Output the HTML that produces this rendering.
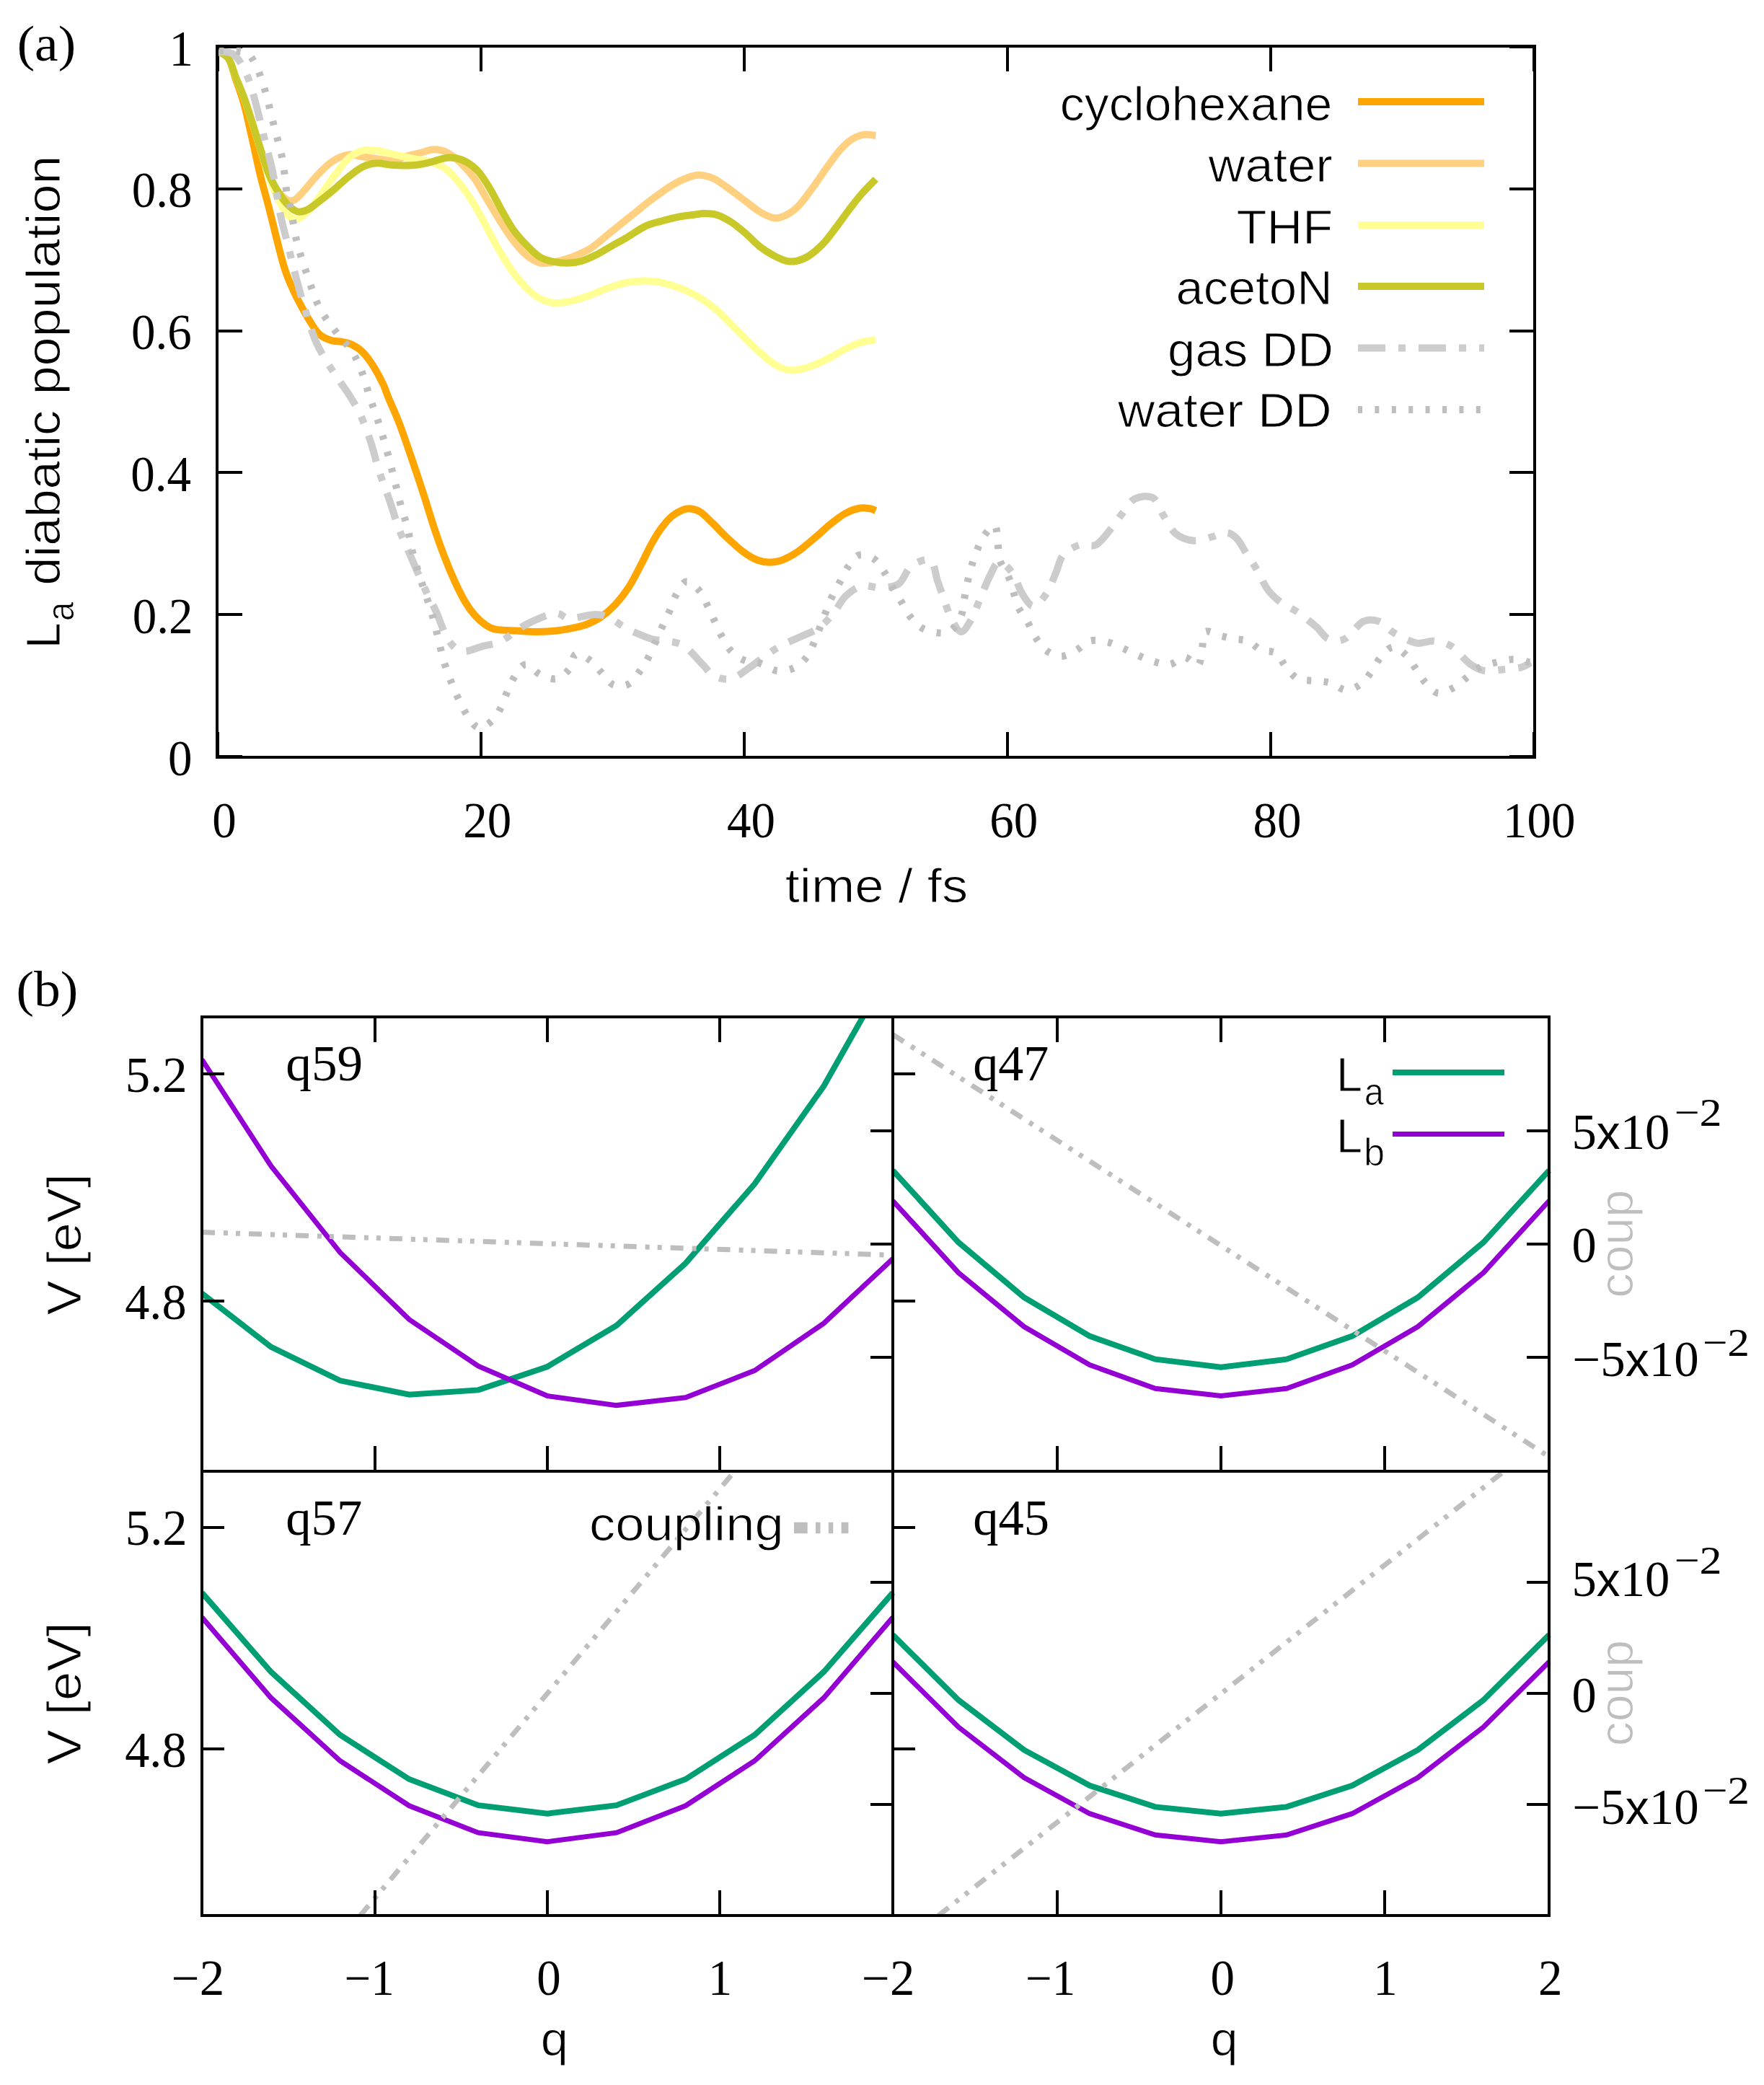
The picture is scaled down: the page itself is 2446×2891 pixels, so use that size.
<!DOCTYPE html>
<html lang="en"><head><meta charset="utf-8"><title>Figure</title>
<style>html,body{margin:0;padding:0;background:#fff}svg{display:block}text{white-space:pre}text[font-family*="Sans"]{stroke:#fff;stroke-width:1px}</style>
</head><body>
<svg width="2446" height="2891" viewBox="0 0 2446 2891">
<rect width="2446" height="2891" fill="#fff"/>
<defs>
<clipPath id="ca"><rect x="295.0" y="58.0" width="1839.0" height="998.0"/></clipPath>
</defs>
<path d="M302.0 1050.0v-35M302.0 64.0v35M667.0 1050.0v-35M667.0 64.0v35M1032.0 1050.0v-35M1032.0 64.0v35M1397.0 1050.0v-35M1397.0 64.0v35M1762.0 1050.0v-35M1762.0 64.0v35M2127.0 1050.0v-35M2127.0 64.0v35M301.0 1049.0h35M2128.0 1049.0h-35M301.0 852.0h35M2128.0 852.0h-35M301.0 655.0h35M2128.0 655.0h-35M301.0 459.0h35M2128.0 459.0h-35M301.0 262.0h35M2128.0 262.0h-35M301.0 65.0h35M2128.0 65.0h-35" stroke="#000" stroke-width="4.0" fill="none"/>
<g clip-path="url(#ca)" fill="none" stroke-width="10" stroke-linejoin="round">
<path d="M302.8 71.3C305.1 72.9 312.9 74.8 316.9 81.2C320.9 87.6 323.3 99.1 326.8 109.5C330.4 119.9 334.4 129.8 338.2 143.5C342.0 157.2 345.7 175.2 349.5 191.7C353.3 208.3 357.1 227.2 360.9 242.7C364.6 258.3 368.4 270.6 372.2 285.3C376.0 299.9 379.8 316.0 383.5 330.6C387.3 345.3 391.1 361.3 394.9 373.1C398.7 384.9 402.4 393.0 406.2 401.5C410.0 410.0 413.8 417.1 417.6 424.1C421.3 431.2 424.6 437.4 428.9 444.0C433.1 450.6 437.9 459.1 443.1 463.8C448.3 468.6 454.9 470.7 460.1 472.3C465.3 474.0 469.5 472.8 474.2 473.8C479.0 474.7 483.7 475.6 488.4 478.0C493.1 480.4 497.9 483.2 502.6 487.9C507.3 492.6 512.0 499.0 516.8 506.3C521.5 513.7 527.4 524.6 530.9 531.9C534.5 539.1 534.2 540.8 538.0 550.0C541.8 559.2 548.2 572.7 553.6 586.8C559.0 601.0 564.9 618.5 570.6 635.0C576.3 651.6 582.4 670.0 587.6 686.1C592.8 702.1 597.1 717.2 601.8 731.4C606.5 745.6 611.2 758.8 616.0 771.1C620.7 783.4 625.4 794.7 630.1 805.1C634.9 815.5 639.6 825.4 644.3 833.4C649.0 841.5 653.8 847.9 658.5 853.3C663.2 858.7 667.9 862.8 672.7 866.0C677.4 869.3 679.7 871.1 686.8 872.6C693.9 874.0 705.7 874.0 715.2 874.5C724.6 875.1 734.1 876.0 743.5 876.0C753.0 876.0 764.1 875.3 771.9 874.5C779.6 873.8 783.2 873.1 790.0 871.7C796.8 870.3 805.6 868.6 812.7 866.0C819.8 863.4 825.9 860.6 832.5 856.1C839.1 851.6 845.7 846.2 852.4 839.1C859.0 832.0 866.1 823.1 872.2 813.6C878.3 804.2 884.0 792.3 889.2 782.4C894.4 772.5 898.7 762.6 903.4 754.1C908.1 745.6 912.8 737.8 917.6 731.4C922.3 725.0 927.0 719.8 931.7 715.8C936.4 711.8 941.6 709.1 945.9 707.3C950.1 705.6 953.0 704.9 957.2 705.3C961.5 705.8 966.2 706.7 971.4 710.1C976.6 713.5 982.3 719.8 988.4 725.7C994.6 731.6 1001.2 739.0 1008.3 745.6C1015.3 752.2 1023.8 760.2 1030.9 765.4C1038.0 770.6 1044.4 774.4 1050.8 776.8C1057.1 779.1 1063.1 779.8 1069.2 779.6C1075.3 779.4 1081.2 777.9 1087.6 775.3C1094.0 772.7 1100.4 769.0 1107.5 764.0C1114.5 759.0 1122.6 752.0 1130.1 745.6C1137.7 739.2 1145.7 731.4 1152.8 725.7C1159.9 720.1 1166.0 715.1 1172.7 711.6C1179.3 708.0 1186.8 705.5 1192.5 704.5C1198.2 703.4 1203.0 704.7 1206.7 705.3C1210.3 705.9 1213.0 707.7 1214.3 708.2" stroke="#FFA500"/>
<path d="M302.8 71.3C305.1 72.9 312.9 75.3 316.9 81.2C320.9 87.1 323.3 97.7 326.8 106.7C330.4 115.7 334.4 124.6 338.2 135.0C342.0 145.4 345.7 157.2 349.5 169.0C353.3 180.9 357.1 194.1 360.9 205.9C364.6 217.7 368.4 230.5 372.2 239.9C376.0 249.4 379.3 256.4 383.5 262.6C387.8 268.7 393.5 274.4 397.7 276.8C402.0 279.1 404.8 279.1 409.0 276.8C413.3 274.4 418.0 268.3 423.2 262.6C428.4 256.9 434.1 249.1 440.2 242.7C446.4 236.4 453.0 229.0 460.1 224.3C467.2 219.6 475.7 215.6 482.7 214.4C489.8 213.2 496.0 216.3 502.6 217.2C509.2 218.2 515.3 219.1 522.4 220.1C529.5 221.0 538.5 223.4 545.1 222.9C551.7 222.4 556.0 219.0 562.1 217.2C568.3 215.4 575.3 213.8 582.0 212.1C588.6 210.5 595.4 207.4 601.8 207.3C608.2 207.2 614.1 208.5 620.2 211.6C626.4 214.6 632.3 219.6 638.6 225.7C645.0 231.9 652.3 239.9 658.5 248.4C664.6 256.9 669.8 267.3 675.5 276.8C681.2 286.2 686.8 296.1 692.5 305.1C698.2 314.1 703.4 322.6 709.5 330.6C715.6 338.6 722.7 347.6 729.3 353.3C736.0 359.0 742.6 363.0 749.2 364.6C755.8 366.3 762.2 364.4 769.0 363.2C775.8 362.0 781.8 360.6 790.0 357.5C798.2 354.5 808.9 350.7 818.3 344.8C827.8 338.9 837.2 329.7 846.7 322.1C856.1 314.6 865.6 307.0 875.0 299.4C884.5 291.9 893.9 283.8 903.4 276.8C912.8 269.7 923.7 261.9 931.7 256.9C939.8 252.0 945.4 249.4 951.6 247.0C957.7 244.6 962.4 242.7 968.6 242.7C974.7 242.7 981.8 244.2 988.4 247.0C995.0 249.8 1001.2 254.8 1008.3 259.8C1015.3 264.7 1023.4 271.1 1030.9 276.8C1038.5 282.4 1046.5 289.5 1053.6 293.8C1060.7 298.0 1067.3 301.6 1073.4 302.3C1079.6 303.0 1084.8 300.9 1090.5 298.0C1096.1 295.2 1101.3 291.6 1107.5 285.3C1113.6 278.9 1120.7 268.7 1127.3 259.8C1133.9 250.8 1141.0 239.9 1147.1 231.4C1153.3 222.9 1158.5 215.1 1164.1 208.7C1169.8 202.4 1175.5 196.8 1181.2 193.1C1186.8 189.5 1192.6 187.5 1198.2 186.6C1203.7 185.8 1211.6 187.8 1214.3 188.0" stroke="#FFD080"/>
<path d="M302.8 71.3C305.1 72.9 312.9 75.3 316.9 81.2C320.9 87.1 323.3 97.7 326.8 106.7C330.4 115.7 334.4 124.6 338.2 135.0C342.0 145.4 345.7 157.2 349.5 169.0C353.3 180.9 357.1 193.6 360.9 205.9C364.6 218.2 368.4 231.9 372.2 242.7C376.0 253.6 379.3 262.1 383.5 271.1C387.8 280.1 393.0 291.2 397.7 296.6C402.4 302.0 407.2 304.2 411.9 303.7C416.6 303.2 421.3 298.3 426.1 293.8C430.8 289.3 434.6 284.3 440.2 276.8C445.9 269.2 453.0 257.9 460.1 248.4C467.2 239.0 475.7 226.7 482.7 220.1C489.8 213.5 496.0 210.6 502.6 208.7C509.2 206.8 515.3 207.9 522.4 208.7C529.5 209.6 536.6 211.9 545.1 213.8C553.6 215.7 564.9 218.3 573.4 220.1C582.0 221.8 588.3 221.7 596.1 224.3C603.9 226.9 612.7 229.8 620.2 235.7C627.8 241.6 635.1 251.5 641.5 259.8C647.9 268.0 652.8 275.8 658.5 285.3C664.1 294.7 669.8 306.0 675.5 316.4C681.2 326.8 686.4 337.2 692.5 347.6C698.6 358.0 705.7 369.8 712.3 378.8C718.9 387.8 726.0 395.6 732.2 401.5C738.3 407.4 743.0 411.2 749.2 414.2C755.3 417.3 762.2 419.3 769.0 419.9C775.8 420.5 782.7 419.3 790.0 417.9C797.3 416.5 804.2 414.4 812.7 411.4C821.2 408.4 831.6 403.4 841.0 400.1C850.5 396.7 861.3 393.3 869.4 391.6C877.4 389.8 882.6 389.8 889.2 389.6C895.8 389.3 902.0 389.1 909.0 390.1C916.1 391.2 924.2 393.4 931.7 395.8C939.3 398.2 946.8 400.8 954.4 404.3C962.0 407.9 969.5 411.9 977.1 417.1C984.6 422.3 992.2 428.6 999.8 435.5C1007.3 442.3 1014.9 450.6 1022.4 458.2C1030.0 465.7 1037.5 473.8 1045.1 480.8C1052.7 487.9 1061.2 495.7 1067.8 500.7C1074.4 505.6 1079.1 508.5 1084.8 510.6C1090.5 512.7 1095.2 513.9 1101.8 513.4C1108.4 513.0 1116.9 510.4 1124.5 507.8C1132.0 505.2 1139.6 501.6 1147.1 497.8C1154.7 494.1 1162.3 488.9 1169.8 485.1C1177.4 481.3 1185.1 477.5 1192.5 475.2C1199.9 472.8 1210.7 471.6 1214.3 470.9" stroke="#FFFF94"/>
<path d="M302.8 71.3C305.1 72.9 312.9 75.3 316.9 81.2C320.9 87.1 323.3 97.7 326.8 106.7C330.4 115.7 334.4 124.6 338.2 135.0C342.0 145.4 345.7 157.2 349.5 169.0C353.3 180.9 357.1 194.1 360.9 205.9C364.6 217.7 368.4 230.5 372.2 239.9C376.0 249.4 379.3 255.5 383.5 262.6C387.8 269.7 393.0 277.3 397.7 282.4C402.4 287.5 407.2 291.8 411.9 293.2C416.6 294.6 421.3 293.0 426.1 290.9C430.8 288.9 434.6 285.3 440.2 281.0C445.9 276.8 453.0 271.3 460.1 265.4C467.2 259.5 475.7 251.2 482.7 245.6C489.8 239.9 496.0 234.6 502.6 231.4C509.2 228.2 515.3 226.7 522.4 226.3C529.5 225.9 536.6 228.7 545.1 229.1C553.6 229.6 564.9 229.8 573.4 229.1C582.0 228.5 588.3 226.9 596.1 225.2C603.9 223.4 612.9 219.3 620.2 218.7C627.5 218.0 633.2 218.7 640.1 221.5C646.9 224.3 654.9 229.3 661.3 235.7C667.7 242.0 672.7 250.5 678.3 259.8C684.0 269.0 689.7 281.0 695.3 290.9C701.0 300.9 706.2 310.8 712.3 319.3C718.5 327.8 726.0 335.7 732.2 342.0C738.3 348.2 743.0 353.1 749.2 356.7C755.3 360.2 762.2 361.9 769.0 363.2C775.8 364.5 783.7 364.9 790.0 364.6C796.3 364.4 800.9 363.7 807.0 361.8C813.1 359.9 820.2 356.6 826.8 353.3C833.5 350.0 839.6 346.0 846.7 342.0C853.8 337.9 861.3 333.9 869.4 329.2C877.4 324.5 886.8 317.4 894.9 313.6C902.9 309.8 910.0 308.6 917.6 306.5C925.1 304.4 933.1 302.3 940.2 300.9C947.3 299.4 953.9 298.8 960.1 298.0C966.2 297.2 971.4 296.0 977.1 296.0C982.7 296.0 987.9 296.0 994.1 298.0C1000.2 300.0 1007.3 303.7 1013.9 307.9C1020.5 312.2 1027.2 317.9 1033.8 323.5C1040.4 329.2 1047.0 336.8 1053.6 342.0C1060.2 347.1 1067.3 351.4 1073.4 354.7C1079.6 358.0 1085.3 360.6 1090.5 361.8C1095.7 363.0 1099.4 363.0 1104.6 361.8C1109.8 360.6 1115.5 358.7 1121.6 354.7C1127.8 350.7 1135.3 344.1 1141.5 337.7C1147.6 331.3 1152.3 324.5 1158.5 316.4C1164.6 308.4 1172.2 297.5 1178.3 289.5C1184.5 281.5 1189.3 275.1 1195.3 268.3C1201.3 261.4 1211.2 251.7 1214.3 248.4" stroke="#C8C828"/>
<path d="M302.8 71.3C306.3 72.0 317.6 70.5 324.0 75.5C330.4 80.5 336.3 91.1 341.0 101.0C345.7 110.9 348.1 119.9 352.4 135.0C356.6 150.2 362.3 174.7 366.5 191.7C370.8 208.7 374.1 219.1 377.9 237.1C381.6 255.0 385.4 281.5 389.2 299.4C393.0 317.4 396.8 329.7 400.5 344.8C404.3 359.9 408.1 376.0 411.9 390.1C415.7 404.3 419.0 416.1 423.2 429.8C427.5 443.5 432.2 460.1 437.4 472.3C442.6 484.6 448.7 494.1 454.4 503.5C460.1 513.0 466.2 521.3 471.4 529.0C476.6 536.8 480.9 542.3 485.6 550.0C490.3 557.7 495.0 565.1 499.8 575.5C504.5 585.9 509.7 599.6 513.9 612.4C518.2 625.1 521.0 638.8 525.3 652.0C529.5 665.3 534.7 678.0 539.4 691.7C544.2 705.4 548.4 720.5 553.6 734.2C558.8 747.9 564.5 759.8 570.6 773.9C576.8 788.1 584.8 807.0 590.5 819.3C596.1 831.6 599.4 836.3 604.6 847.6C609.8 859.0 615.5 878.1 621.6 887.3C627.8 896.5 633.4 901.5 641.5 902.9C649.5 904.3 660.8 898.2 669.8 895.8C678.8 893.4 685.4 893.7 695.3 888.7C705.2 883.8 717.1 872.4 729.3 866.0C741.6 859.7 758.9 851.9 769.0 850.5C779.1 849.0 780.6 857.3 790.0 857.5C799.4 857.8 816.0 851.9 825.4 851.9C834.9 851.9 839.4 854.2 846.7 857.5C854.0 860.8 859.9 867.0 869.4 871.7C878.8 876.4 894.2 883.0 903.4 885.9C912.6 888.7 917.1 887.1 924.6 888.7C932.2 890.4 940.5 890.4 948.7 895.8C957.0 901.2 967.4 914.5 974.2 921.3C981.1 928.2 983.2 933.6 989.8 936.9C996.4 940.2 1005.7 943.0 1013.9 941.2C1022.2 939.3 1031.4 931.0 1039.4 925.6C1047.5 920.1 1054.6 913.8 1062.1 908.6C1069.7 903.4 1076.3 898.9 1084.8 894.4C1093.3 889.9 1104.6 885.6 1113.1 881.6C1121.6 877.6 1128.7 875.5 1135.8 870.3C1142.9 865.1 1149.5 857.8 1155.6 850.5C1161.8 843.1 1166.0 832.7 1172.7 826.4C1179.3 820.0 1187.3 814.1 1195.3 812.2C1203.4 810.3 1212.3 815.5 1220.8 815.0C1229.3 814.6 1239.3 814.3 1246.3 809.4C1253.4 804.4 1256.1 790.7 1263.4 785.3C1270.6 779.8 1283.9 773.5 1290.0 776.8C1296.1 780.1 1296.8 796.4 1299.9 805.1C1303.0 813.8 1305.4 820.7 1308.4 829.2C1311.5 837.7 1314.3 848.3 1318.3 856.1C1322.4 863.9 1327.8 875.5 1332.5 876.0C1337.2 876.4 1342.2 866.8 1346.7 859.0C1351.2 851.2 1355.2 839.1 1359.4 829.2C1363.7 819.3 1367.9 807.7 1372.2 799.4C1376.5 791.2 1379.8 780.5 1385.0 779.6C1390.2 778.6 1397.9 786.4 1403.4 793.8C1408.8 801.1 1412.6 815.7 1417.6 823.5C1422.5 831.3 1427.5 840.8 1433.1 840.5C1438.8 840.3 1446.4 829.9 1451.6 822.1C1456.8 814.3 1460.5 802.5 1464.3 793.8C1468.1 785.0 1468.8 776.0 1474.2 769.7C1479.7 763.3 1489.4 757.9 1496.9 755.5C1504.5 753.1 1512.3 759.3 1519.6 755.5C1526.9 751.7 1534.7 740.1 1540.9 732.8C1547.0 725.5 1551.0 718.4 1556.4 711.6C1561.9 704.7 1566.4 695.3 1573.4 691.7C1580.5 688.2 1592.3 686.5 1599.0 690.3C1605.6 694.1 1607.9 706.1 1613.1 714.4C1618.3 722.7 1623.0 734.0 1630.1 739.9C1637.2 745.8 1647.1 749.1 1655.6 749.8C1664.1 750.5 1673.6 746.1 1681.2 744.2C1688.7 742.3 1695.3 738.0 1701.0 738.5C1706.7 739.0 1710.7 742.3 1715.2 747.0C1719.7 751.7 1723.2 759.5 1727.9 766.8C1732.6 774.2 1738.7 782.7 1743.5 790.9C1748.4 799.2 1751.7 809.1 1757.0 816.4C1762.3 823.8 1768.3 829.4 1775.4 834.9C1782.5 840.3 1791.3 843.4 1799.5 849.0C1807.8 854.7 1817.9 862.7 1825.0 868.9C1832.1 875.0 1835.4 883.0 1842.0 885.9C1848.7 888.7 1856.7 889.9 1864.7 885.9C1872.7 881.9 1882.2 865.8 1890.2 861.8C1898.3 857.8 1905.8 859.2 1912.9 861.8C1920.0 864.4 1924.2 872.4 1932.7 877.4C1941.2 882.3 1954.7 889.7 1963.9 891.6C1973.1 893.4 1980.0 888.0 1988.0 888.7C1996.0 889.4 2003.8 890.6 2012.1 895.8C2020.4 901.0 2030.1 914.2 2037.6 919.9C2045.2 925.6 2049.9 928.4 2057.5 929.8C2065.0 931.2 2074.5 929.1 2083.0 928.4C2091.5 927.7 2101.9 927.2 2108.5 925.6C2115.1 923.9 2120.3 919.7 2122.7 918.5" stroke="#CCCCCC" stroke-dasharray="38 18 10 18"/>
<path d="M304.2 69.8C310.1 70.3 331.3 69.6 339.6 72.7C347.9 75.7 350.0 82.1 353.8 88.3C357.6 94.4 359.7 102.2 362.3 109.5C364.9 116.8 366.3 120.9 369.4 132.2C372.4 143.5 376.9 162.4 380.7 177.6C384.5 192.7 389.2 207.8 392.0 222.9C394.9 238.0 395.8 256.9 397.7 268.3C399.6 279.6 401.0 279.6 403.4 290.9C405.7 302.3 408.1 321.2 411.9 336.3C415.7 351.4 420.9 366.5 426.1 381.6C431.3 396.7 436.0 413.3 443.1 427.0C450.1 440.7 461.5 454.4 468.6 463.8C475.7 473.3 480.9 477.1 485.6 483.7C490.3 490.3 493.6 496.4 496.9 503.5C500.2 510.6 502.8 518.4 505.4 526.2C508.0 533.9 509.7 541.3 512.5 550.0C515.3 558.7 518.9 567.5 522.4 578.3C526.0 589.2 530.0 602.0 533.8 615.2C537.5 628.4 541.3 643.1 545.1 657.7C548.9 672.4 553.1 690.8 556.4 703.1C559.7 715.3 562.1 720.1 564.9 731.4C567.8 742.7 569.7 756.9 573.4 771.1C577.2 785.3 583.8 804.6 587.6 816.4C591.4 828.3 593.8 834.4 596.1 842.0C598.5 849.5 599.9 854.7 601.8 861.8C603.7 868.9 605.1 875.0 607.5 884.5C609.8 893.9 612.7 907.6 616.0 918.5C619.3 929.3 623.5 940.2 627.3 949.7C631.1 959.1 634.9 967.6 638.6 975.2C642.4 982.7 645.7 989.3 650.0 995.0C654.2 1000.7 658.5 1008.7 664.1 1009.2C669.8 1009.7 678.8 1002.8 684.0 997.8C689.2 992.9 692.0 986.0 695.3 979.4C698.6 972.8 700.5 965.5 703.8 958.2C707.1 950.8 710.9 941.6 715.2 935.5C719.4 929.3 723.7 921.3 729.3 921.3C735.0 921.3 742.1 932.2 749.2 935.5C756.3 938.8 765.1 942.6 771.9 941.2C778.7 939.7 785.6 932.7 790.0 927.0C794.4 921.3 793.8 909.0 798.5 907.1C803.2 905.3 812.2 911.2 818.3 915.6C824.5 920.1 829.9 928.4 835.4 934.1C840.8 939.7 844.8 947.3 850.9 949.7C857.1 952.0 866.1 951.5 872.2 948.2C878.3 944.9 883.3 936.0 887.8 929.8C892.3 923.7 893.9 921.8 899.1 911.4C904.3 901.0 914.0 878.3 919.0 867.5C923.9 856.6 925.8 853.3 928.9 846.2C932.0 839.1 933.6 831.6 937.4 824.9C941.2 818.3 946.1 807.5 951.6 806.5C957.0 805.6 965.0 813.6 970.0 819.3C974.9 824.9 977.8 833.4 981.3 840.5C984.9 847.6 987.9 854.7 991.2 861.8C994.6 868.9 997.4 876.2 1001.2 883.0C1004.9 889.9 1008.7 897.5 1013.9 902.9C1019.1 908.3 1025.5 912.8 1032.3 915.6C1039.2 918.5 1047.7 917.5 1055.0 919.9C1062.3 922.3 1069.0 928.6 1076.3 929.8C1083.6 931.0 1092.3 929.6 1099.0 927.0C1105.6 924.4 1111.2 919.7 1116.0 914.2C1120.7 908.8 1122.6 905.0 1127.3 894.4C1132.0 883.8 1140.1 861.3 1144.3 850.5C1148.6 839.6 1149.5 836.3 1152.8 829.2C1156.1 822.1 1160.4 815.0 1164.1 807.9C1167.9 800.9 1171.0 793.1 1175.5 786.7C1180.0 780.3 1184.9 771.6 1191.1 769.7C1197.2 767.8 1206.4 771.3 1212.3 775.3C1218.2 779.4 1222.3 787.2 1226.5 793.8C1230.8 800.4 1234.1 808.4 1237.8 815.0C1241.6 821.6 1245.2 826.8 1249.2 833.4C1253.2 840.1 1257.2 848.6 1261.9 854.7C1266.7 860.8 1271.2 866.5 1277.5 870.3C1283.9 874.1 1293.1 876.7 1299.9 877.4C1306.7 878.1 1312.9 878.3 1318.3 874.5C1323.8 870.8 1329.4 861.8 1332.5 854.7C1335.6 847.6 1335.4 839.6 1336.8 832.0C1338.2 824.5 1339.4 816.9 1341.0 809.4C1342.7 801.8 1344.6 794.0 1346.7 786.7C1348.8 779.4 1350.9 772.5 1353.8 765.4C1356.6 758.3 1359.4 750.3 1363.7 744.2C1367.9 738.0 1376.0 727.2 1379.3 728.6C1382.6 730.0 1382.4 744.6 1383.5 752.7C1384.7 760.7 1384.0 769.2 1386.4 776.8C1388.7 784.3 1394.6 790.9 1397.7 798.0C1400.8 805.1 1402.4 812.0 1404.8 819.3C1407.2 826.6 1408.6 834.9 1411.9 842.0C1415.2 849.0 1420.9 855.2 1424.6 861.8C1428.4 868.4 1430.3 875.0 1434.6 881.6C1438.8 888.2 1444.0 896.7 1450.1 901.5C1456.3 906.2 1464.3 910.0 1471.4 910.0C1478.5 910.0 1486.1 905.0 1492.7 901.5C1499.3 897.9 1504.0 890.6 1511.1 888.7C1518.2 886.8 1527.6 888.5 1535.2 890.1C1542.7 891.8 1549.4 895.6 1556.4 898.6C1563.5 901.7 1570.6 905.5 1577.7 908.6C1584.8 911.6 1591.6 914.9 1599.0 917.1C1606.3 919.2 1614.3 922.3 1621.6 921.3C1629.0 920.4 1636.3 911.2 1642.9 911.4C1649.5 911.6 1657.3 924.9 1661.3 922.7C1665.3 920.6 1665.3 906.4 1667.0 898.6C1668.6 890.8 1667.0 878.8 1671.2 876.0C1675.5 873.1 1685.9 880.0 1692.5 881.6C1699.1 883.3 1704.5 884.7 1710.9 885.9C1717.3 887.1 1724.5 886.1 1730.8 888.7C1737.0 891.3 1742.0 898.6 1748.5 901.5C1755.0 904.3 1764.1 901.9 1769.8 905.7C1775.4 909.5 1777.6 918.2 1782.5 924.1C1787.5 930.1 1792.9 937.8 1799.5 941.2C1806.1 944.5 1814.6 943.0 1822.2 944.0C1829.8 944.9 1837.6 944.7 1844.9 946.8C1852.2 949.0 1859.0 956.5 1866.1 956.7C1873.2 957.0 1881.5 952.5 1887.4 948.2C1893.3 944.0 1897.1 937.4 1901.6 931.2C1906.1 925.1 1909.4 917.1 1914.3 911.4C1919.3 905.7 1925.4 897.7 1931.3 897.2C1937.2 896.7 1944.3 903.4 1949.8 908.6C1955.2 913.8 1959.4 922.0 1963.9 928.4C1968.4 934.8 1971.7 941.4 1976.7 946.8C1981.6 952.3 1987.3 959.8 1993.7 961.0C2000.1 962.2 2008.3 957.5 2014.9 953.9C2021.6 950.4 2027.2 944.5 2033.4 939.7C2039.5 935.0 2044.9 929.1 2051.8 925.6C2058.6 922.0 2066.7 920.4 2074.5 918.5C2082.3 916.6 2090.8 914.2 2098.6 914.2C2106.4 914.2 2117.5 917.8 2121.2 918.5" stroke="#BEBEBE" stroke-dasharray="6 17.4"/>
</g>
<rect x="301.0" y="64.0" width="1827.0" height="986.0" fill="none" stroke="#000" stroke-width="4.0"/>
<text x="232.9" y="1074.5" font-family="'Liberation Serif', serif" font-size="69" textLength="33.5" lengthAdjust="spacingAndGlyphs">0</text>
<text x="183.8" y="877.7" font-family="'Liberation Serif', serif" font-size="69" textLength="83.8" lengthAdjust="spacingAndGlyphs">0.2</text>
<text x="181.2" y="680.9" font-family="'Liberation Serif', serif" font-size="69" textLength="83.8" lengthAdjust="spacingAndGlyphs">0.4</text>
<text x="182.1" y="484.1" font-family="'Liberation Serif', serif" font-size="69" textLength="83.8" lengthAdjust="spacingAndGlyphs">0.6</text>
<text x="182.7" y="287.3" font-family="'Liberation Serif', serif" font-size="69" textLength="83.8" lengthAdjust="spacingAndGlyphs">0.8</text>
<text x="234.4" y="90.5" font-family="'Liberation Serif', serif" font-size="69" textLength="33.5" lengthAdjust="spacingAndGlyphs">1</text>
<text x="294.2" y="1161.0" font-family="'Liberation Serif', serif" font-size="69" textLength="33.5" lengthAdjust="spacingAndGlyphs">0</text>
<text x="642.3" y="1161.0" font-family="'Liberation Serif', serif" font-size="69" textLength="67.0" lengthAdjust="spacingAndGlyphs">20</text>
<text x="1008.1" y="1161.0" font-family="'Liberation Serif', serif" font-size="69" textLength="67.0" lengthAdjust="spacingAndGlyphs">40</text>
<text x="1372.3" y="1161.0" font-family="'Liberation Serif', serif" font-size="69" textLength="67.0" lengthAdjust="spacingAndGlyphs">60</text>
<text x="1737.5" y="1161.0" font-family="'Liberation Serif', serif" font-size="69" textLength="67.0" lengthAdjust="spacingAndGlyphs">80</text>
<text x="2084.1" y="1161.0" font-family="'Liberation Serif', serif" font-size="69" textLength="100.5" lengthAdjust="spacingAndGlyphs">100</text>
<text x="1088.7" y="1251.4" font-family="'Liberation Sans', sans-serif" font-size="66" textLength="253.4" lengthAdjust="spacingAndGlyphs">time / fs</text>
<text transform="translate(83.0 0) rotate(-90)" x="-899.2" y="0" font-family="'Liberation Sans', sans-serif" font-size="66" textLength="36.2" lengthAdjust="spacingAndGlyphs">L</text>
<text transform="translate(102.1 0) rotate(-90)" x="-861.2" y="0" font-family="'Liberation Sans', sans-serif" font-size="53" textLength="26.7" lengthAdjust="spacingAndGlyphs">a</text>
<text transform="translate(83.0 0) rotate(-90)" x="-811.7" y="0" font-family="'Liberation Sans', sans-serif" font-size="66" textLength="243.0" lengthAdjust="spacingAndGlyphs">diabatic</text>
<text transform="translate(83.0 0) rotate(-90)" x="-547.5" y="0" font-family="'Liberation Sans', sans-serif" font-size="66" textLength="332.1" lengthAdjust="spacingAndGlyphs">population</text>
<text x="23.7" y="83.6" font-family="'Liberation Serif', serif" font-size="69" textLength="81.4" lengthAdjust="spacingAndGlyphs">(a)</text>
<text x="22.6" y="1395.2" font-family="'Liberation Serif', serif" font-size="69" textLength="85.7" lengthAdjust="spacingAndGlyphs">(b)</text>
<text x="1469.7" y="167.1" font-family="'Liberation Sans', sans-serif" font-size="66" textLength="377.7" lengthAdjust="spacingAndGlyphs">cyclohexane</text>
<path d="M1883 141.0H2058" stroke="#FFA500" stroke-width="10" fill="none"/>
<text x="1675.5" y="251.5" font-family="'Liberation Sans', sans-serif" font-size="66" textLength="172.3" lengthAdjust="spacingAndGlyphs">water</text>
<path d="M1883 226.5H2058" stroke="#FFD080" stroke-width="10" fill="none"/>
<text x="1714.6" y="337.6" font-family="'Liberation Sans', sans-serif" font-size="66" textLength="133.6" lengthAdjust="spacingAndGlyphs">THF</text>
<path d="M1883 312.0H2058" stroke="#FFFF94" stroke-width="10" fill="none"/>
<text x="1630.6" y="422.2" font-family="'Liberation Sans', sans-serif" font-size="66" textLength="217.0" lengthAdjust="spacingAndGlyphs">acetoN</text>
<path d="M1883 397.0H2058" stroke="#C8C828" stroke-width="10" fill="none"/>
<text x="1619.1" y="508.0" font-family="'Liberation Sans', sans-serif" font-size="66" textLength="229.9" lengthAdjust="spacingAndGlyphs">gas DD</text>
<path d="M1883 482.5H2058" stroke="#CCCCCC" stroke-width="10" stroke-dasharray="38 18 10 18" fill="none"/>
<text x="1550.1" y="592.4" font-family="'Liberation Sans', sans-serif" font-size="66" textLength="296.6" lengthAdjust="spacingAndGlyphs">water DD</text>
<path d="M1883 568.0H2058" stroke="#BEBEBE" stroke-width="10" stroke-dasharray="6 17.4" fill="none"/>
<defs>
<clipPath id="cq59"><rect x="280.0" y="1410.0" width="961.0" height="630.0"/></clipPath>
<clipPath id="cq47"><rect x="1238.0" y="1410.0" width="913.0" height="630.0"/></clipPath>
<clipPath id="cq57"><rect x="280.0" y="2040.0" width="961.0" height="616.0"/></clipPath>
<clipPath id="cq45"><rect x="1238.0" y="2040.0" width="913.0" height="616.0"/></clipPath>
</defs>
<g clip-path="url(#cq59)" fill="none">
<path d="M280.0 1793.4L375.8 1867.6L471.6 1914.3L567.4 1933.7L663.2 1927.4L759.0 1895.0L854.8 1838.0L950.6 1751.6L1046.4 1641.6L1142.2 1506.0L1238.0 1336.7" stroke="#009E73" stroke-width="8"/>
<path d="M280.0 1469.2L375.8 1616.6L471.6 1736.7L567.4 1829.6L663.2 1894.1L759.0 1935.5L854.8 1948.6L950.6 1937.7L1046.4 1900.3L1142.2 1834.9L1238.0 1745.4" stroke="#9400D3" stroke-width="7"/>
<path d="M280.0 1708.6L1238.0 1740.3" stroke="#BEBEBE" stroke-width="7" stroke-dasharray="18 12 6 11 6 12"/>
</g>
<g clip-path="url(#cq47)" fill="none">
<path d="M1238.0 1622.9L1329.0 1722.6L1420.0 1799.0L1511.0 1852.6L1602.0 1884.7L1693.0 1895.6L1784.0 1884.7L1875.0 1852.6L1966.0 1799.0L2057.0 1722.6L2148.0 1622.9" stroke="#009E73" stroke-width="8"/>
<path d="M1238.0 1665.0L1329.0 1764.7L1420.0 1839.5L1511.0 1892.5L1602.0 1925.2L1693.0 1935.5L1784.0 1925.2L1875.0 1892.5L1966.0 1839.5L2057.0 1764.7L2148.0 1665.0" stroke="#9400D3" stroke-width="7"/>
<path d="M1238.0 1434.5L2148.0 2019.8" stroke="#BEBEBE" stroke-width="7" stroke-dasharray="18 12 6 11 6 12"/>
</g>
<g clip-path="url(#cq57)" fill="none">
<path d="M280.0 2208.3L375.8 2318.3L471.6 2405.6L567.4 2467.0L663.2 2503.2L759.0 2514.7L854.8 2503.2L950.6 2467.0L1046.4 2405.6L1142.2 2318.3L1238.0 2208.3" stroke="#009E73" stroke-width="8"/>
<path d="M280.0 2242.6L375.8 2354.2L471.6 2441.5L567.4 2503.8L663.2 2541.2L759.0 2553.7L854.8 2541.2L950.6 2503.8L1046.4 2441.5L1142.2 2354.2L1238.0 2242.6" stroke="#9400D3" stroke-width="7"/>
<path d="M499.5 2656.0L1030.0 2026.6" stroke="#BEBEBE" stroke-width="7" stroke-dasharray="18 12 6 11 6 12"/>
</g>
<g clip-path="url(#cq45)" fill="none">
<path d="M1238.0 2266.9L1329.0 2357.3L1420.0 2426.5L1511.0 2475.8L1602.0 2505.4L1693.0 2514.7L1784.0 2505.4L1875.0 2475.8L1966.0 2426.5L2057.0 2357.3L2148.0 2266.9" stroke="#009E73" stroke-width="8"/>
<path d="M1238.0 2304.3L1329.0 2394.7L1420.0 2464.8L1511.0 2514.7L1602.0 2544.3L1693.0 2553.7L1784.0 2544.3L1875.0 2514.7L1966.0 2464.8L2057.0 2394.7L2148.0 2304.3" stroke="#9400D3" stroke-width="7"/>
<path d="M1301.2 2656.0L2110.0 2020.9" stroke="#BEBEBE" stroke-width="7" stroke-dasharray="18 12 6 11 6 12"/>
</g>
<path d="M520.0 1410.0v35M520.0 2040.0v-35M520.0 2656.0v-35M759.0 1410.0v35M759.0 2040.0v-35M759.0 2656.0v-35M998.0 1410.0v35M998.0 2040.0v-35M998.0 2656.0v-35M1466.0 1410.0v35M1466.0 2040.0v-35M1466.0 2656.0v-35M1693.0 1410.0v35M1693.0 2040.0v-35M1693.0 2656.0v-35M1920.0 1410.0v35M1920.0 2040.0v-35M1920.0 2656.0v-35M280.0 1489.0h31M1238.0 1489.0h31M280.0 1804.0h31M1238.0 1804.0h31M1238.0 1568.0h-31M2148.0 1568.0h-31M1238.0 1725.0h-31M2148.0 1725.0h-31M1238.0 1882.0h-31M2148.0 1882.0h-31M280.0 2118.0h31M1238.0 2118.0h31M280.0 2425.0h31M1238.0 2425.0h31M1238.0 2194.0h-31M2148.0 2194.0h-31M1238.0 2348.0h-31M2148.0 2348.0h-31M1238.0 2502.0h-31M2148.0 2502.0h-31" stroke="#000" stroke-width="4.0" fill="none"/>
<path d="M280.0 1410.0H2148.0V2656.0H280.0ZM1238.0 1410.0V2656.0M280.0 2040.0H2148.0" fill="none" stroke="#000" stroke-width="4.0"/>
<text x="173.8" y="1513.7" font-family="'Liberation Serif', serif" font-size="69" textLength="85.9" lengthAdjust="spacingAndGlyphs">5.2</text>
<text x="173.2" y="1828.8" font-family="'Liberation Serif', serif" font-size="69" textLength="85.4" lengthAdjust="spacingAndGlyphs">4.8</text>
<text x="2179.4" y="1750.4" font-family="'Liberation Serif', serif" font-size="69" textLength="34.2" lengthAdjust="spacingAndGlyphs">0</text>
<text x="2179.5" y="1592.8" font-family="'Liberation Serif', serif" font-size="69" textLength="135.9" lengthAdjust="spacingAndGlyphs">5<tspan font-family="'Liberation Sans', sans-serif" font-size="66">x</tspan>10</text>
<text x="2321.5" y="1561.3" font-family="'Liberation Serif', serif" font-size="55" textLength="66.1" lengthAdjust="spacingAndGlyphs">−2</text>
<text x="2180.5" y="1908.1" font-family="'Liberation Serif', serif" font-size="69" textLength="175.1" lengthAdjust="spacingAndGlyphs">−5<tspan font-family="'Liberation Sans', sans-serif" font-size="66">x</tspan>10</text>
<text x="2360.7" y="1880.1" font-family="'Liberation Serif', serif" font-size="55" textLength="65.3" lengthAdjust="spacingAndGlyphs">−2</text>
<text transform="translate(2264.0 0) rotate(-90)" x="-1799.7" y="0" font-family="'Liberation Sans', sans-serif" font-size="66" textLength="150.3" lengthAdjust="spacingAndGlyphs" fill="#BEBEBE">coup</text>
<text transform="translate(112.3 0) rotate(-90)" x="-1823.4" y="0" font-family="'Liberation Sans', sans-serif" font-size="66" textLength="196.1" lengthAdjust="spacingAndGlyphs">V [eV]</text>
<text x="173.8" y="2142.0" font-family="'Liberation Serif', serif" font-size="69" textLength="85.9" lengthAdjust="spacingAndGlyphs">5.2</text>
<text x="173.2" y="2450.0" font-family="'Liberation Serif', serif" font-size="69" textLength="85.4" lengthAdjust="spacingAndGlyphs">4.8</text>
<text x="2179.4" y="2373.6" font-family="'Liberation Serif', serif" font-size="69" textLength="34.2" lengthAdjust="spacingAndGlyphs">0</text>
<text x="2179.5" y="2213.2" font-family="'Liberation Serif', serif" font-size="69" textLength="135.9" lengthAdjust="spacingAndGlyphs">5<tspan font-family="'Liberation Sans', sans-serif" font-size="66">x</tspan>10</text>
<text x="2321.5" y="2181.7" font-family="'Liberation Serif', serif" font-size="55" textLength="66.1" lengthAdjust="spacingAndGlyphs">−2</text>
<text x="2180.5" y="2528.5" font-family="'Liberation Serif', serif" font-size="69" textLength="175.1" lengthAdjust="spacingAndGlyphs">−5<tspan font-family="'Liberation Sans', sans-serif" font-size="66">x</tspan>10</text>
<text x="2360.7" y="2500.5" font-family="'Liberation Serif', serif" font-size="55" textLength="65.3" lengthAdjust="spacingAndGlyphs">−2</text>
<text transform="translate(2264.0 0) rotate(-90)" x="-2421.3" y="0" font-family="'Liberation Sans', sans-serif" font-size="66" textLength="147.3" lengthAdjust="spacingAndGlyphs" fill="#BEBEBE">coup</text>
<text transform="translate(112.3 0) rotate(-90)" x="-2446.6" y="0" font-family="'Liberation Sans', sans-serif" font-size="66" textLength="197.3" lengthAdjust="spacingAndGlyphs">V [eV]</text>
<text x="237.8" y="2766.0" font-family="'Liberation Serif', serif" font-size="69" textLength="73.5" lengthAdjust="spacingAndGlyphs">−2</text>
<text x="477.7" y="2766.0" font-family="'Liberation Serif', serif" font-size="69" textLength="69.1" lengthAdjust="spacingAndGlyphs">−1</text>
<text x="744.2" y="2766.0" font-family="'Liberation Serif', serif" font-size="69" textLength="33.5" lengthAdjust="spacingAndGlyphs">0</text>
<text x="981.8" y="2766.0" font-family="'Liberation Serif', serif" font-size="69" textLength="33.5" lengthAdjust="spacingAndGlyphs">1</text>
<text x="1195.1" y="2766.0" font-family="'Liberation Serif', serif" font-size="69" textLength="73.3" lengthAdjust="spacingAndGlyphs">−2</text>
<text x="1422.2" y="2766.0" font-family="'Liberation Serif', serif" font-size="69" textLength="69.0" lengthAdjust="spacingAndGlyphs">−1</text>
<text x="1678.5" y="2766.0" font-family="'Liberation Serif', serif" font-size="69" textLength="33.5" lengthAdjust="spacingAndGlyphs">0</text>
<text x="1904.3" y="2766.0" font-family="'Liberation Serif', serif" font-size="69" textLength="33.5" lengthAdjust="spacingAndGlyphs">1</text>
<text x="2132.9" y="2766.0" font-family="'Liberation Serif', serif" font-size="69" textLength="33.5" lengthAdjust="spacingAndGlyphs">2</text>
<text x="749.8" y="2850.0" font-family="'Liberation Sans', sans-serif" font-size="66" textLength="38.2" lengthAdjust="spacingAndGlyphs">q</text>
<text x="1678.8" y="2850.0" font-family="'Liberation Sans', sans-serif" font-size="66" textLength="37.8" lengthAdjust="spacingAndGlyphs">q</text>
<text x="396.3" y="1498.0" font-family="'Liberation Serif', serif" font-size="69" textLength="106.8" lengthAdjust="spacingAndGlyphs">q59</text>
<text x="1349.3" y="1498.0" font-family="'Liberation Serif', serif" font-size="69" textLength="105.0" lengthAdjust="spacingAndGlyphs">q47</text>
<text x="396.3" y="2128.0" font-family="'Liberation Serif', serif" font-size="69" textLength="105.9" lengthAdjust="spacingAndGlyphs">q57</text>
<text x="1349.2" y="2128.0" font-family="'Liberation Serif', serif" font-size="69" textLength="105.8" lengthAdjust="spacingAndGlyphs">q45</text>
<text x="1852.7" y="1512.5" font-family="'Liberation Sans', sans-serif" font-size="66" textLength="36.4" lengthAdjust="spacingAndGlyphs">L</text>
<text x="1891.7" y="1531.7" font-family="'Liberation Sans', sans-serif" font-size="53" textLength="27.2" lengthAdjust="spacingAndGlyphs">a</text>
<text x="1852.7" y="1597.7" font-family="'Liberation Sans', sans-serif" font-size="66" textLength="36.4" lengthAdjust="spacingAndGlyphs">L</text>
<text x="1890.9" y="1616.1" font-family="'Liberation Sans', sans-serif" font-size="53" textLength="29.1" lengthAdjust="spacingAndGlyphs">b</text>
<path d="M1931 1487H2086" stroke="#009E73" stroke-width="8"/>
<path d="M1931 1572.5H2086" stroke="#9400D3" stroke-width="7"/>
<text x="817.1" y="2136.0" font-family="'Liberation Sans', sans-serif" font-size="66" textLength="269.6" lengthAdjust="spacingAndGlyphs">coupling</text>
<path d="M1101 2118.4H1176.4" stroke="#BEBEBE" stroke-width="15.5" stroke-dasharray="18.7 11.3 6.5 11.3 6.5 11.3"/>
</svg>
</body></html>
